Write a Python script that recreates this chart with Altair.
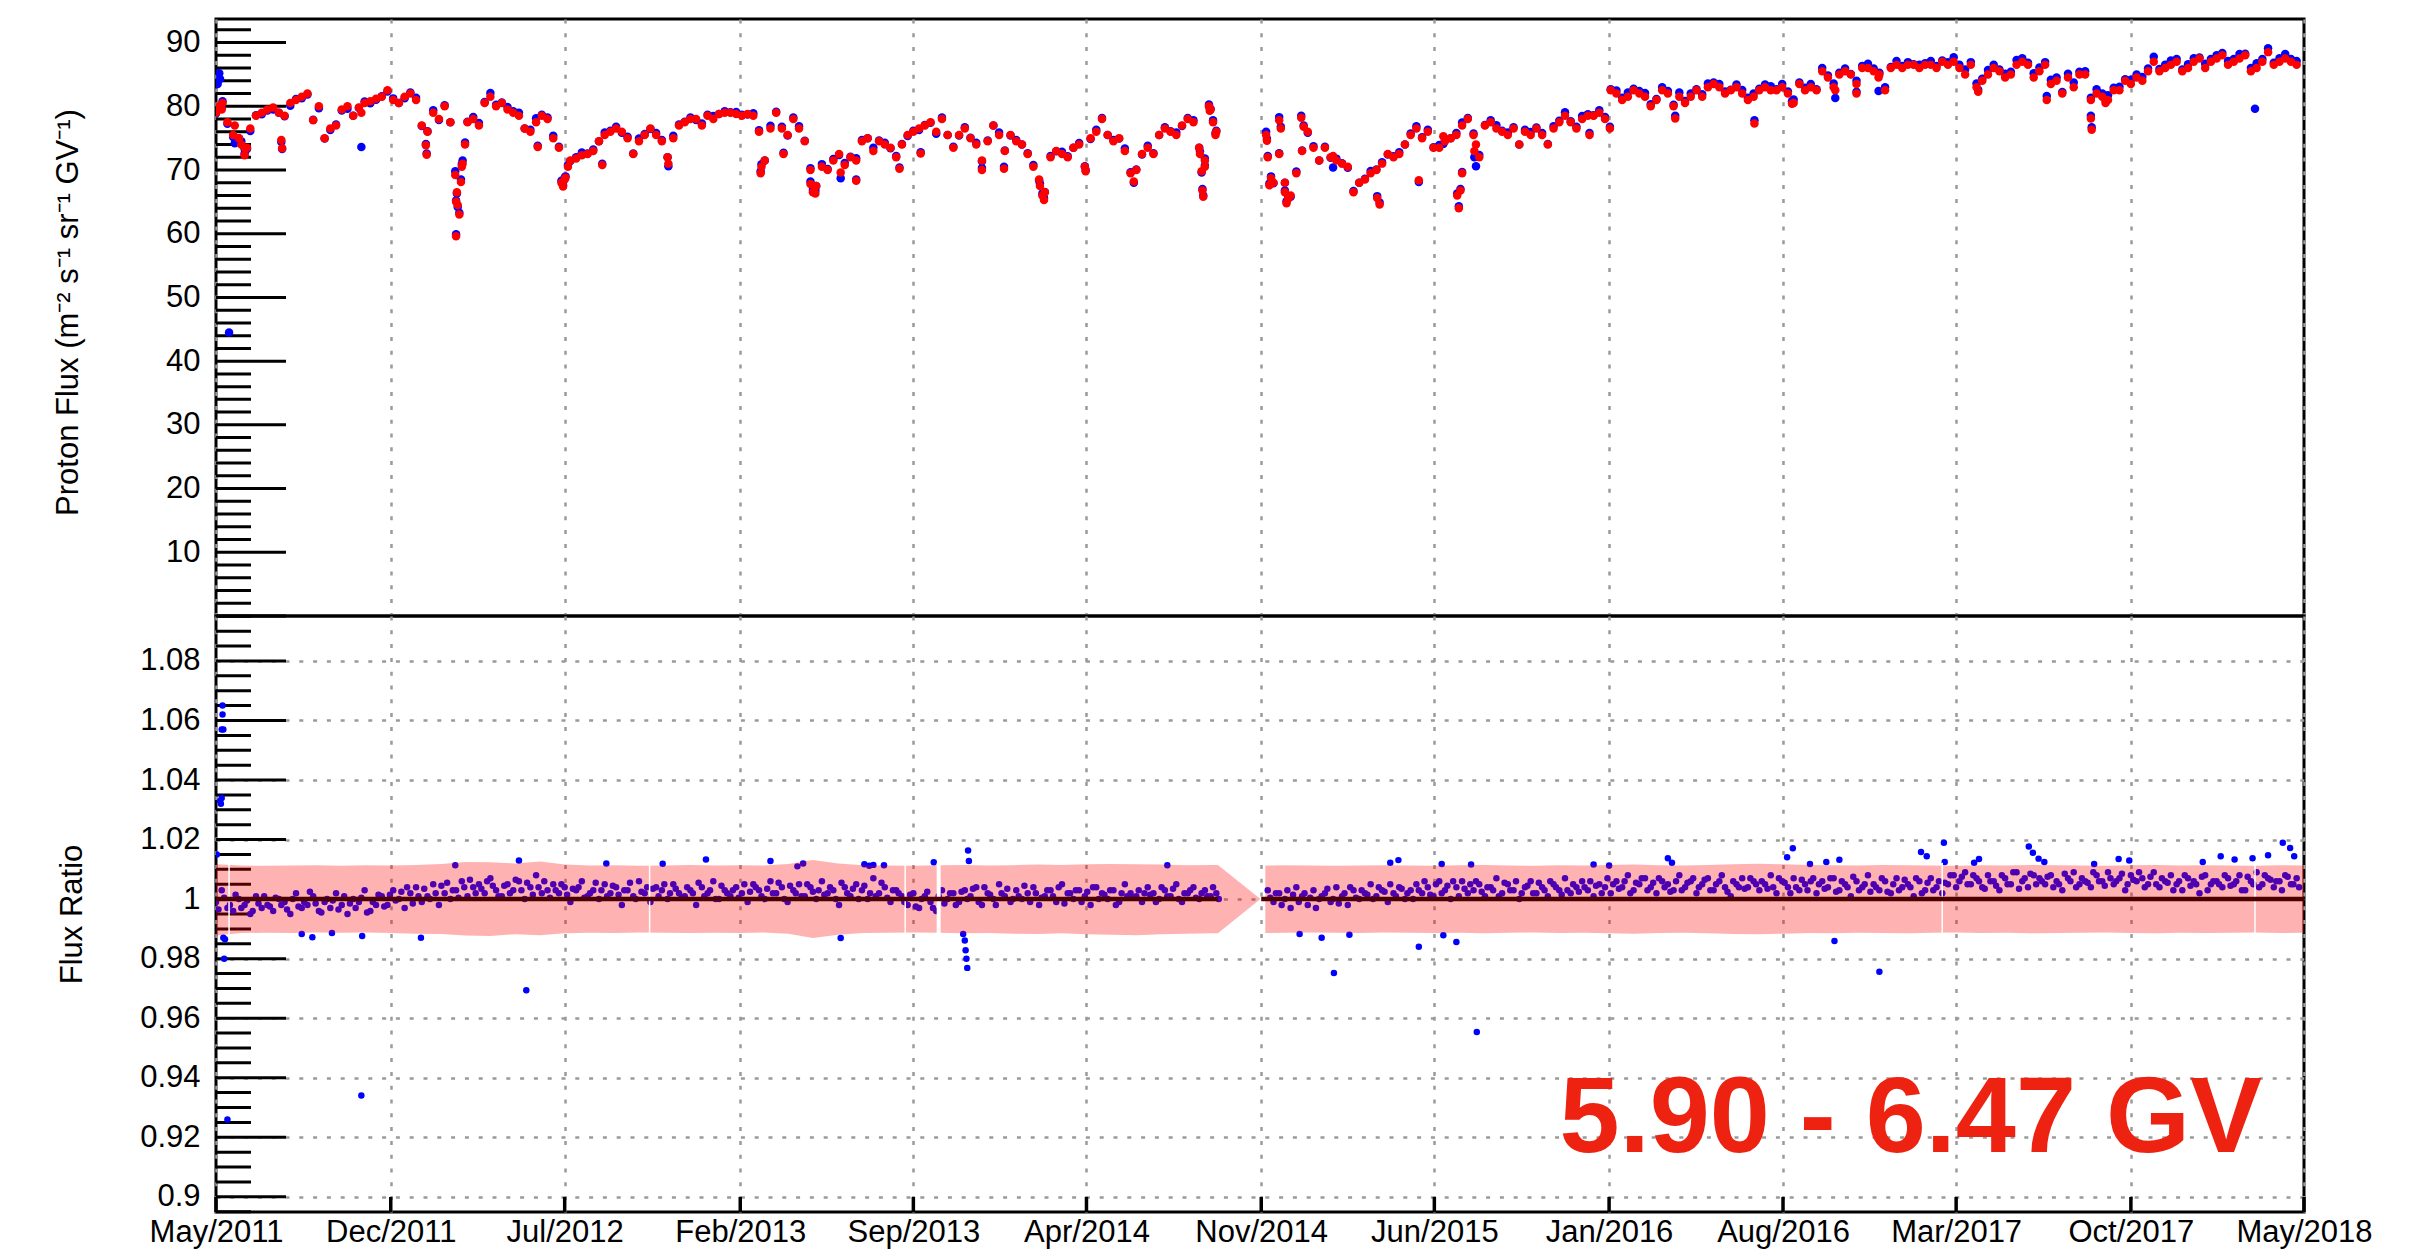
import altair as alt
import pandas as pd

# ---------------- data ----------------
WEEK0 = "2011-05-01"   # weekly sampling start

# red proton flux, one value per week (None = data gap)
flux_red = [
 79.0, 79.5, 77.5, 75.5, 75.0, 73.5, 76.5, 78.5, 79.0, 79.5,
 79.8, 79.0, 78.5, 80.5, 81.0, 81.5, 82.0, 77.8, 80.0, 75.0,
 76.5, 77.0, 79.5, 80.0, 78.5, 79.8, 80.5, 80.8, 81.2, 81.5,
 82.5, 81.0, 80.5, 81.5, 82.0, 81.0, 77.0, 76.0, 79.0, 78.0,
 80.0, 77.5, 65.0, 70.5, 77.5, 78.0, 77.0, 80.5, 81.5, 80.0,
 80.5, 79.5, 79.0, 78.5, 76.5, 76.0, 77.5, 78.5, 78.0, 75.0,
 73.5, 68.5, 71.5, 71.8, 72.3, 72.5, 73.0, 74.5, 75.5, 76.0,
 76.5, 76.0, 75.0, 72.5, 74.5, 75.5, 76.5, 75.5, 74.5, 72.0,
 75.0, 77.0, 77.5, 78.0, 78.0, 77.0, 78.5, 78.0, 78.8, 79.0,
 79.0, 78.8, 78.5, 78.8, 78.5, 76.0, 71.5, 76.5, 79.0, 76.5,
 75.5, 78.0, 76.5, 74.5, 70.0, 67.5, 70.5, 70.0, 71.5, 72.5,
 70.8, 72.0, 71.5, 74.5, 75.0, 73.0, 74.5, 74.0, 73.5, 72.0,
 74.0, 75.5, 76.0, 76.5, 77.0, 77.5, 76.0, 78.0, 75.5, 73.5,
 75.5, 76.5, 75.0, 74.0, 71.5, 74.5, 77.0, 75.5, 73.0, 75.5,
 74.5, 74.0, 72.5, 70.5, 68.5, 66.5, 72.0, 73.0, 72.5, 72.0,
 73.5, 74.0, 70.5, 75.0, 76.0, 78.0, 75.5, 74.5, 75.0, 73.0,
 69.5, 70.0, 72.5, 73.5, 72.5, 75.5, 76.5, 76.0, 75.5, 77.0,
 78.0, 77.5, 73.5, 70.5, 79.5, 76.0,
 None, None, None, None, None, None, None, None,
 72.0, 68.0, 72.5, 68.0, 66.0, 69.5,
 73.0, 76.0, 73.5, 71.5, 73.5, 72.0, 71.5, 71.0, 70.5, 66.5,
 68.0, 68.5, 69.5, 70.0, 71.0, 72.5, 72.0, 72.5, 74.0, 75.5,
 76.5, 75.0, 76.0, 73.5, 73.5, 74.5, 75.0, 75.5, 77.0, 78.0,
 75.5, 72.0, 77.0, 77.5, 76.5, 76.0, 75.5, 76.5, 74.0, 76.0,
 75.5, 76.5, 75.5, 74.0, 76.5, 77.5, 78.5, 77.5, 76.5, 78.0,
 78.5, 78.5, 79.0, 78.0, 82.5, 82.0, 81.0, 81.5, 82.5, 82.0,
 81.5, 80.0, 81.0, 82.5, 82.0, 80.0, 81.5, 80.5, 81.5, 82.5,
 81.5, 83.0, 83.5, 83.0, 82.0, 82.5, 83.0, 82.0, 81.0, 81.5,
 82.5, 83.0, 82.5, 82.5, 83.0, 82.0, 80.5, 83.5, 82.5, 83.0,
 82.5, 85.5, 84.5, 83.0, 85.0, 85.5, 85.0, 83.5, 86.0, 86.0,
 85.5, 85.0, 82.5, 86.0, 86.5, 86.0, 86.5, 86.5, 86.0, 86.5,
 86.5, 86.0, 87.0, 86.5, 87.0, 86.0, 85.0, 86.5, 83.0, 84.0,
 85.0, 86.0, 85.5, 84.5, 85.0, 86.5, 87.0, 86.5, 84.5, 85.5,
 86.5, 83.5, 84.0, 82.0, 84.5, 83.0, 85.0, 85.0, 81.0, 82.0,
 81.5, 81.0, 82.5, 82.5, 84.0, 83.5, 84.5, 84.0, 85.5, 87.0,
 85.5, 86.0, 86.5, 87.0, 85.5, 86.0, 87.0, 87.5, 86.0, 87.0,
 87.5, 88.0, 86.5, 87.0, 87.5, 88.0, 85.5, 86.0, 87.0, 88.5,
 86.5, 87.0, 87.5, 87.0, 86.5,
]

# flux ratio (blue / red) as deviation from 1 in per mille, same weeks
ratio_week = [
 -1, 3, -3, -4, 0, -2, -5, 1, -3, -2,
 -4, 0, -1, -5, 2, -3, -2, 1, -4, -1,
 -3, 2, -2, -5, 0, -1, 3, -4, -2, 1,
 -2, 3, 0, -3, 2, 4, -1, 1, 5, -2,
 2, 0, 3, 6, 1, 4, 5, 2, 7, 3,
 1, 5, 3, 6, 0, 4, 8, 2, 3, 5,
 2, 4, -1, 3, 6, 1, 3, 0, 5, 2,
 4, -2, 3, 1, 6, 2, -1, 4, 3, 0,
 5, 2, 1, 3, -2, 4, 2, 6, 0, 3,
 1, 4, 2, -1, 5, 3, 0, 6, 2, 4,
 -1, 3, 5, 1, 4, 0, 6, 2, 3, -2,
 4, 1, 5, 3, 0, 7, 2, 4, -1, 3,
 1, -2, 2, -3, 1, -1, -4, 3, 0, 2,
 -1, 3, 1, 4, -2, 2, 0, 5, 1, -1,
 3, 0, 2, 4, -2, 1, 3, -1, 5, 2,
 0, 3, 1, -2, 4, 2, 0, 3, -1, 5,
 2, 1, -1, 4, 2, 0, 3, 1, 5, -1,
 2, 4, 0, 3, 1, 2,
 None, None, None, None, None, None, None, None,
 3, -1, 2, 0, -3, 4,
 1, -2, 3, 0, 2, -1, 4, 1, -2, 3,
 0, 2, 5, 1, 3, -1, 2, 4, 0, 3,
 5, 2, 4, 1, 6, 3, 0, 4, 6, 2,
 3, 5, 1, 4, 7, 2, 5, 3, 0, 4,
 6, 2, 4, 1, 5, 3, 7, 2, 4, 6,
 3, 1, 5, 4, 2, 6, 4, 8, 3, 5,
 7, 4, 2, 6, 5, 3, 8, 4, 6, 2,
 5, 7, 3, 6, 4, 1, 5, 7, 4, 6,
 3, 5, 8, 2, 6, 4, 7, 3, 5, 6,
 2, 6, 4, 7, 3, 5, 1, 6, 4, 8,
 5, 3, 6, 2, 7, 4, 5, 1, 6, 3,
 7, 4, 2, 5, 8, 6, 9, 5, 7, 4,
 8, 6, 3, 7, 5, 9, 6, 4, 8, 7,
 5, 8, 6, 3, 7, 9, 5, 6, 4, 8,
 6, 9, 5, 7, 3, 8, 6, 7, 5, 9,
 4, 6, 8, 5, 3, 7, 6, 2, 8, 5,
 6, 4, 7, 5, 8, 3, 6, 9, 5, 7,
 4, 6, 8, 5, 7,
]

# flux ratio, mid-week samples (per mille deviation from 1)
ratio_mid = [
 -3.5, 0.5, -2, 1.5, -3, -0.5, -4, -1.5, 1, -2.5,
 0.5, -2, -3.5, 0, -2.5, -1, 2.5, -1.5, -4.5, 0,
 -0.5, -3.5, 1, -1.5, -3, 0.5, -4.5, -1, 1.5, -2.5,
 1.5, -0.5, 2.5, 4, -1.5, 1, 3.5, 0, 2, 4.5,
 5.5, 3, 0.5, 4, 6.5, 2, 3.5, 6, 4.5, 1,
 4.5, 2, 6.5, 3, 5.5, 1.5, 4, 6, 0.5, 3,
 5, 1.5, 3.5, 4, 0.5, 2, 5.5, 3, 1, 4.5,
 1.5, 3, 5.5, 0, 2.5, 4, 3.5, 1, 5, 2,
 3.5, 0.5, 4, 2, 5.5, 1, 3, 0, 4.5, 2,
 3, 0.5, 5, 2.5, 4, 1, 3.5, 2, 5.5, 0,
 4.5, 2, 1, 5, 2.5, 3, 1.5, 4, 0, 5.5,
 2, 3.5, 0, 4.5, 2, 1, 5.5, 0.5, 3, 2,
 -1, 1.5, -2.5, 0, 2.5, -3, 1, -1.5, 2, -2,
 2.5, 0, 3.5, -1, 4, 1.5, -2, 2, 3.5, 0,
 1, 4.5, -1, 2, 0.5, 3, 1, 4, -1.5, 2,
 3, -1, 2.5, 4, 0, 1.5, 3, -2, 2, 1,
 0.5, 3, 2, 1.5, -1, 4, 1, 3.5, 0, 2,
 3, 0.5, 2, 1, 4, 0,
 None, None, None, None, None, None, None, None,
 0.5, 2, -2, 3, 1.5, -1,
 2, 0.5, -3, 1, 3.5, 0, -1.5, 2, 4, 0.5,
 3, 1.5, 0, 4, 2.5, 5, 1, 3.5, 2, 0,
 3, 6, 1.5, 5, 2, 4.5, 6, 1, 3.5, 5,
 6, 2.5, 4, 3, 1, 5.5, 3, 6, 2, 4.5,
 2, 5.5, 3, 6, 4, 1.5, 3, 5, 2.5, 4,
 6, 4.5, 2, 7, 5, 3.5, 6, 2, 5.5, 7,
 3, 5.5, 7, 4, 2.5, 6, 3, 5.5, 7, 4,
 6.5, 3, 5, 8, 2.5, 6, 4, 3.5, 7, 5,
 6, 3.5, 4, 7, 5.5, 2, 4, 6.5, 3, 7,
 5, 3.5, 7, 2.5, 6, 4, 7.5, 3, 5, 2.5,
 4, 7, 2.5, 5, 3, 6.5, 4, 7, 2, 5.5,
 3, 6, 5.5, 8, 4, 7.5, 5, 8, 6, 3.5,
 6, 4.5, 8, 5, 9, 3.5, 7, 8.5, 5, 6,
 7.5, 4, 5, 8.5, 6, 4, 7, 5.5, 9, 6,
 4.5, 7, 6, 8.5, 5, 6.5, 9, 4, 7.5, 5,
 7, 5.5, 3, 6, 8, 4.5, 5, 7.5, 3, 6,
 5, 8, 4.5, 6, 3, 7.5, 5, 4, 8, 6.5,
 6, 3, 7.5, 5, 4,
]

# extra daily flux points (sharp dips, outliers): date, red, blue
ex_dates = ["2011-05-03", "2011-05-05", "2011-05-06", "2011-05-09", "2011-05-17",
            "2011-05-24", "2011-06-01", "2011-06-05", "2011-06-08", "2011-07-20",
            "2011-07-21", "2011-10-26", "2012-01-13", "2012-01-14", "2012-02-18",
            "2012-02-19", "2012-02-20", "2012-02-21", "2012-02-23", "2012-02-25",
            "2012-02-27", "2012-03-01", "2012-05-29", "2012-06-27", "2012-06-29",
            "2012-07-02", "2012-07-05", "2012-08-16", "2012-11-05", "2013-02-26",
            "2013-02-27", "2013-03-26", "2013-04-28", "2013-05-01", "2013-05-04",
            "2013-06-04", "2013-06-23", "2013-08-15", "2013-09-10", "2013-11-24",
            "2013-12-21", "2014-02-03", "2014-02-06", "2014-02-08", "2014-03-31",
            "2014-05-29", "2014-08-18", "2014-08-20", "2014-08-21", "2014-08-22",
            "2014-08-24", "2014-08-29", "2014-08-30", "2014-09-03", "2014-09-06",
            "2014-11-07", "2014-11-08", "2014-11-11", "2014-11-13", "2014-11-23",
            "2014-11-25", "2014-11-30", "2014-12-02", "2014-12-04", "2014-12-20",
            "2014-12-23", "2015-01-28", "2015-03-23", "2015-03-26", "2015-05-13",
            "2015-06-12", "2015-06-29", "2015-07-01", "2015-07-03", "2015-07-05",
            "2015-07-20", "2015-07-22", "2015-12-08", "2016-01-02", "2016-03-22",
            "2016-06-27", "2016-08-12", "2016-10-04", "2016-10-30", "2016-11-26",
            "2017-03-28", "2017-06-20", "2017-08-13", "2017-08-14", "2017-08-31",
            "2018-03-02"]
ex_red = [79.5, 80.0, 79.8, 80.5, None,
          77.0, 74.0, 72.3, 73.5, 74.7,
          73.4, 79.0, 73.9, 72.4, 69.2,
          59.6, 66.5, 64.5, 63.0, 68.1,
          71.0, 74.0, 73.6, 68.0, 67.4,
          68.8, 70.5, 70.8, 71.0, 69.5,
          70.5, 72.5, 67.8, 66.5, 66.3,
          69.6, 68.3, 70.2, 72.6, 70.0,
          70.2, 67.5, 66.0, 65.3, 69.8,
          68.2, 72.5, 69.8, 66.8, 65.8,
          71.5, 80.0, 79.3, 77.5, 75.5,
          75.5, 74.6, 67.6, 68.7, 77.8,
          76.5, 66.5, 64.8, 65.5, 78.2,
          76.8, 72.2, 65.6, 64.6, 68.4,
          75.3, 66.0, 64.0, 66.8, 69.5,
          73.0, 74.0, 75.5, 76.5, 78.1,
          77.3, 80.4, 82.5, 82.0, 84.5,
          82.3, 81.0, 78.1, 76.3, 80.5,
          None]
ex_blue = [83.5, 85.2, 84.3, 80.8, 44.5,
           74.2, 74.5, 72.6, 73.3, 74.4,
           73.3, 73.6, 74.1, 72.6, 69.8,
           59.9, 66.3, 64.2, 63.3, 68.5,
           71.5, 74.3, 73.8, 68.3, 67.6,
           69.0, 70.8, 71.0, 70.6, 69.8,
           70.9, 72.7, 68.2, 66.9, 66.8,
           68.7, 68.5, 70.4, 72.8, 70.3,
           70.5, 67.9, 66.3, 65.6, 70.0,
           68.0, 72.9, 69.6, 67.0, 66.0,
           71.8, 80.3, 79.7, 77.8, 75.8,
           76.0, 74.9, 67.9, 69.0, 78.3,
           76.8, 66.8, 65.1, 65.8, 78.5,
           77.0, 70.4, 65.9, 64.9, 68.1,
           74.1, 66.3, 64.3, 67.0, 69.7,
           72.0, 70.6, 75.8, 76.8, 78.5,
           77.8, 80.8, 81.3, 82.3, 82.4,
           82.6, 81.6, 78.5, 76.7, 80.9,
           79.6]

# extra ratio points (outliers)
rx_dates = ["2011-05-02", "2011-05-06", "2011-05-07", "2011-05-08", "2011-05-08",
            "2011-05-09", "2011-05-09", "2011-05-10", "2011-05-10", "2011-05-11",
            "2011-05-12", "2011-05-15", "2011-08-14", "2011-08-27", "2011-09-20",
            "2011-10-26", "2011-10-27", "2012-01-07", "2012-02-18", "2012-05-06",
            "2012-05-15", "2012-08-21", "2012-10-29", "2012-12-21", "2013-03-10",
            "2013-04-12", "2013-04-19", "2013-06-04", "2013-07-03", "2013-07-09",
            "2013-07-14", "2013-07-27", "2013-09-26", "2013-11-07", "2013-11-08",
            "2013-11-01", "2013-11-03", "2013-11-04", "2013-11-05", "2013-11-06",
            "2014-07-09", "2014-12-18", "2015-01-14", "2015-01-29", "2015-02-17",
            "2015-04-08", "2015-04-18", "2015-05-13", "2015-06-10", "2015-06-12",
            "2015-06-28", "2015-07-16", "2015-07-23", "2015-12-13", "2016-01-01",
            "2016-03-13", "2016-03-18", "2016-08-06", "2016-08-13", "2016-09-03",
            "2016-09-23", "2016-10-03", "2016-10-09", "2016-11-27", "2017-01-17",
            "2017-01-24", "2017-02-14", "2017-02-15", "2017-03-23", "2017-03-29",
            "2017-05-29", "2017-06-03", "2017-06-10", "2017-06-17", "2017-08-17",
            "2017-09-16", "2017-09-29", "2017-12-28", "2018-01-19", "2018-02-05",
            "2018-02-27", "2018-03-18", "2018-04-05", "2018-04-14", "2018-04-19"]
rx_vals = [1.015, 1.033, 1.032, 1.034, 1.057,
           1.065, 1.062, 1.057, 0.987, 0.980,
           0.9865, 0.926, 0.9883, 0.9872, 0.9886,
           0.934, 0.9876, 0.9870, 1.0114, 1.0130,
           0.9694, 1.0120, 1.0119, 1.0133, 1.0128,
           1.0110, 1.0120, 0.9869, 1.0117, 1.0112,
           1.0115, 1.0114, 1.0124, 1.0163, 1.0128,
           0.9883, 0.9861, 0.9828, 0.9800, 0.9769,
           1.0114, 0.9883, 0.9870, 0.9752, 0.9880,
           1.0122, 1.0131, 0.9840, 1.0118, 0.9879,
           0.9856, 1.0116, 0.9554, 1.0116, 1.0113,
           1.0137, 1.0122, 1.0141, 1.0171, 1.0118,
           1.0125, 0.9859, 1.0132, 0.9756, 1.0158,
           1.0144, 1.0189, 1.0125, 1.0122, 1.0135,
           1.0177, 1.0156, 1.0136, 1.0125, 1.0118,
           1.0135, 1.0130, 1.0125, 1.0144, 1.0133,
           1.0137, 1.0147, 1.0189, 1.0172, 1.0144]

# systematic-uncertainty band (two segments), upper and lower edges
bandA_dates = pd.date_range("2011-05-01", "2014-09-01", freq="MS").strftime("%Y-%m-%d").tolist() + ["2014-09-09", "2014-10-31"]
bandA_hi = [1.0117, 1.0113, 1.0112, 1.0113, 1.0114, 1.0112, 1.0114, 1.0113, 1.0115, 1.0118,
            1.0125, 1.0124, 1.0120, 1.0126, 1.0116, 1.0113, 1.0114, 1.0112, 1.0113, 1.0115,
            1.0113, 1.0114, 1.0113, 1.0118, 1.0131, 1.0120, 1.0114, 1.0113, 1.0112, 1.0114,
            1.0115, 1.0113, 1.0114, 1.0116, 1.0115, 1.0117, 1.0118, 1.0117, 1.0116, 1.0114,
            1.0115, 1.0115, 1.0000]
bandA_lo = [0.9878, 0.9886, 0.9887, 0.9886, 0.9888, 0.9887, 0.9888, 0.9886, 0.9884, 0.9883,
            0.9878, 0.9876, 0.9882, 0.9879, 0.9885, 0.9887, 0.9886, 0.9888, 0.9887, 0.9886,
            0.9887, 0.9886, 0.9888, 0.9884, 0.9869, 0.9880, 0.9886, 0.9887, 0.9888, 0.9887,
            0.9885, 0.9886, 0.9884, 0.9883, 0.9885, 0.9882, 0.9880, 0.9879, 0.9882, 0.9884,
            0.9885, 0.9885, 1.0000]
bandB_dates = ["2014-11-06"] + pd.date_range("2014-12-01", "2018-05-01", freq="MS").strftime("%Y-%m-%d").tolist()
bandB_hi = [1.0113, 1.0114, 1.0113, 1.0112, 1.0113, 1.0114, 1.0113, 1.0112, 1.0114, 1.0115,
            1.0113, 1.0112, 1.0114, 1.0113, 1.0115, 1.0116, 1.0114, 1.0113, 1.0115, 1.0117,
            1.0119, 1.0117, 1.0115, 1.0114, 1.0113, 1.0115, 1.0114, 1.0113, 1.0112, 1.0114,
            1.0113, 1.0115, 1.0114, 1.0113, 1.0112, 1.0114, 1.0115, 1.0113, 1.0114, 1.0113,
            1.0112, 1.0114, 1.0113]
bandB_lo = [0.9886, 0.9887, 0.9888, 0.9887, 0.9886, 0.9888, 0.9887, 0.9886, 0.9887, 0.9885,
            0.9887, 0.9888, 0.9886, 0.9887, 0.9885, 0.9884, 0.9886, 0.9887, 0.9885, 0.9883,
            0.9882, 0.9884, 0.9886, 0.9885, 0.9887, 0.9886, 0.9885, 0.9887, 0.9888, 0.9886,
            0.9887, 0.9885, 0.9886, 0.9887, 0.9888, 0.9886, 0.9885, 0.9887, 0.9886, 0.9887,
            0.9888, 0.9886, 0.9887]

# short gaps in the band
slit_dates = ["2011-05-17", "2012-10-13", "2013-08-22", "2013-10-02", "2017-02-12", "2018-03-02"]
slit_w = [1.5, 1.5, 1.5, 4.0, 1.5, 1.5]

# reference line at ratio = 1
line_start = ["2011-05-01", "2014-11-01"]
line_end = ["2014-09-09", "2018-05-01"]

tick_months = [(2011, 5), (2011, 12), (2012, 7), (2013, 2), (2013, 9), (2014, 4), (2014, 11),
               (2015, 6), (2016, 1), (2016, 8), (2017, 3), (2017, 10), (2018, 5)]
top_labels = [10, 20, 30, 40, 50, 60, 70, 80, 90]
bot_labels = [0.90, 0.92, 0.94, 0.96, 0.98, 1.00, 1.02, 1.04, 1.06, 1.08]
label_text = "5.90 - 6.47 GV"

# ---------------- build tables ----------------
n = min(len(flux_red), len(ratio_week), len(ratio_mid))
weeks = pd.date_range(WEEK0, periods=n, freq="7D")
wk = weeks.strftime("%Y-%m-%d").tolist()
mid = (weeks + pd.Timedelta(days=3)).strftime("%Y-%m-%d").tolist()

red_rows = [(d, r) for d, r in zip(wk, flux_red[:n]) if r is not None]
red_rows += [(d, r) for d, r in zip(ex_dates, ex_red) if r is not None]
blue_rows = [(d, r * (1 + q / 1000.0)) for d, r, q in zip(wk, flux_red[:n], ratio_week[:n])
             if r is not None and q is not None]
blue_rows += [(d, b) for d, b in zip(ex_dates, ex_blue) if b is not None]
red_df = pd.DataFrame(red_rows, columns=["date", "flux"])
blue_df = pd.DataFrame(blue_rows, columns=["date", "flux"])

ratio_rows = [(d, 1 + q / 1000.0) for d, q in zip(wk, ratio_week[:n]) if q is not None]
ratio_rows += [(d, 1 + q / 1000.0) for d, q in zip(mid, ratio_mid[:n]) if q is not None]
ratio_rows += list(zip(rx_dates, rx_vals))
ratio_df = pd.DataFrame(ratio_rows, columns=["date", "ratio"])

bandA = pd.DataFrame({"date": bandA_dates, "hi": bandA_hi, "lo": bandA_lo})
bandB = pd.DataFrame({"date": bandB_dates, "hi": bandB_hi, "lo": bandB_lo})
slits = pd.DataFrame({"date": slit_dates, "w": slit_w, "hi": [1.0122] * len(slit_dates),
                      "lo": [0.9880] * len(slit_dates)})
line_df = pd.DataFrame({"s": line_start, "e": line_end, "one": [1.0] * len(line_start)})
xt_df = pd.DataFrame({"date": ["%04d-%02d-01" % ym for ym in tick_months]})

top_major = pd.DataFrame({"v": [0] + top_labels})
top_minor = pd.DataFrame({"v": [v for v in range(0, 94, 2) if v % 10 != 0]})
bot_major = pd.DataFrame({"v": bot_labels})
bot_minor = pd.DataFrame({"v": [round(0.895 + 0.005 * i, 4) for i in range(41)
                                if round((0.895 + 0.005 * i) * 1000) % 20 != 0]})
text_df = pd.DataFrame({"t": [label_text]})

# ---------------- styling ----------------
FONT = "Liberation Sans"
W, H1, H2 = 2088, 597, 596
GRID = dict(grid=True, gridColor="#9a9a9a", gridDash=[4, 9.8], gridWidth=2.5)

tick_dt = [alt.DateTime(year=y, month=m, date=1, utc=True) for y, m in tick_months]
xscale = alt.Scale(type="utc", nice=False,
                   domain=[alt.DateTime(year=2011, month=5, date=1, utc=True),
                           alt.DateTime(year=2018, month=5, date=1, utc=True)])
xaxis_top = alt.Axis(values=tick_dt, labels=False, ticks=False, domain=False, title=None,
                     minExtent=0, maxExtent=0, **GRID)
xaxis_bot = alt.Axis(values=tick_dt, format="%b/%Y", labelFont=FONT, labelFontSize=31,
                     labelColor="black", labelPadding=5, labelFlush=False, labelOverlap=False,
                     ticks=False, domain=False, title=None, **GRID)

yscale_top = alt.Scale(domain=[0, 93.7], nice=False, zero=False)
yaxis_top = alt.Axis(values=top_labels, labelFont=FONT, labelFontSize=31, labelColor="black",
                     labelPadding=16, ticks=False, tickSize=0, domain=False, grid=False,
                     title="Proton Flux (m\u207b\u00b2 s\u207b\u00b9 sr\u207b\u00b9 GV\u207b\u00b9)",
                     titleFont=FONT, titleFontSize=31, titleFontWeight="normal",
                     titleColor="black", titleX=-132, titleY=293)
yscale_bot = alt.Scale(domain=[0.8949, 1.0951], nice=False, zero=False)
yaxis_bot = alt.Axis(values=bot_labels, format="~g", labelFont=FONT, labelFontSize=31,
                     labelColor="black", labelPadding=16, ticks=False, tickSize=0, domain=False,
                     title="Flux Ratio", titleFont=FONT, titleFontSize=31,
                     titleFontWeight="normal", titleColor="black", titleX=-128, titleY=298,
                     **GRID)


def xt(field, axis):
    return alt.X(field, type="temporal", scale=xscale, axis=axis)


def ytop(field):
    return alt.Y(field, type="quantitative", scale=yscale_top, axis=yaxis_top)


def ybot(field):
    return alt.Y(field, type="quantitative", scale=yscale_bot, axis=yaxis_bot)


# ---------------- top panel ----------------
t_major = alt.Chart(top_major).mark_rule(color="black", strokeWidth=3).encode(
    y=ytop("v"), x=alt.value(0), x2=alt.value(70))
t_minor = alt.Chart(top_minor).mark_rule(color="black", strokeWidth=3).encode(
    y=ytop("v"), x=alt.value(0), x2=alt.value(35))
t_blue = alt.Chart(blue_df).mark_circle(size=72, color="#0000ff", opacity=1, clip=True).encode(
    x=xt("date", xaxis_top), y=ytop("flux"))
t_red = alt.Chart(red_df).mark_circle(size=72, color="#ff0000", opacity=1, clip=True).encode(
    x=xt("date", xaxis_top), y=ytop("flux"))
top = alt.layer(t_major, t_minor, t_blue, t_red).properties(width=W, height=H1)

# ---------------- bottom panel ----------------
b_major = alt.Chart(bot_major).mark_rule(color="black", strokeWidth=3).encode(
    y=ybot("v"), x=alt.value(0), x2=alt.value(70))
b_minor = alt.Chart(bot_minor).mark_rule(color="black", strokeWidth=3).encode(
    y=ybot("v"), x=alt.value(0), x2=alt.value(35))
b_xticks = alt.Chart(xt_df).mark_rule(color="black", strokeWidth=3.5).encode(
    x=xt("date", xaxis_bot), y=alt.value(H2 - 15), y2=alt.value(H2))
b_pts = alt.Chart(ratio_df).mark_circle(size=42, color="#0000ff", opacity=1, clip=True).encode(
    x=xt("date", xaxis_bot), y=ybot("ratio"))
b_bandA = alt.Chart(bandA).mark_area(color="#ff0000", opacity=0.3, clip=True).encode(
    x=xt("date", xaxis_bot), y=ybot("hi"), y2="lo")
b_bandB = alt.Chart(bandB).mark_area(color="#ff0000", opacity=0.3, clip=True).encode(
    x=xt("date", xaxis_bot), y=ybot("hi"), y2="lo")
b_slits = alt.Chart(slits).mark_rule(color="white").encode(
    x=xt("date", xaxis_bot), y=ybot("hi"), y2="lo",
    strokeWidth=alt.StrokeWidth("w:Q", scale=None))
b_line = alt.Chart(line_df).mark_rule(color="#4c0000", strokeWidth=4.5).encode(
    x=xt("s", xaxis_bot), x2="e", y=ybot("one"))
b_text = alt.Chart(text_df).mark_text(font=FONT, fontSize=108, fontWeight="bold",
                                      color="#ee2211", align="right",
                                      baseline="alphabetic").encode(
    text="t:N", x=alt.value(2046), y=alt.value(536))
bottom = alt.layer(b_major, b_minor, b_xticks, b_pts, b_bandA, b_bandB, b_slits, b_line,
                   b_text).properties(width=W, height=H2)

chart = alt.vconcat(top, bottom, spacing=0, bounds="flush").properties(
    padding={"left": 50, "top": 17, "right": 5, "bottom": 5},
    background="white",
).configure_view(stroke="black", strokeWidth=3)

chart.save("out.html", embed_options={"renderer": "svg", "actions": False})
